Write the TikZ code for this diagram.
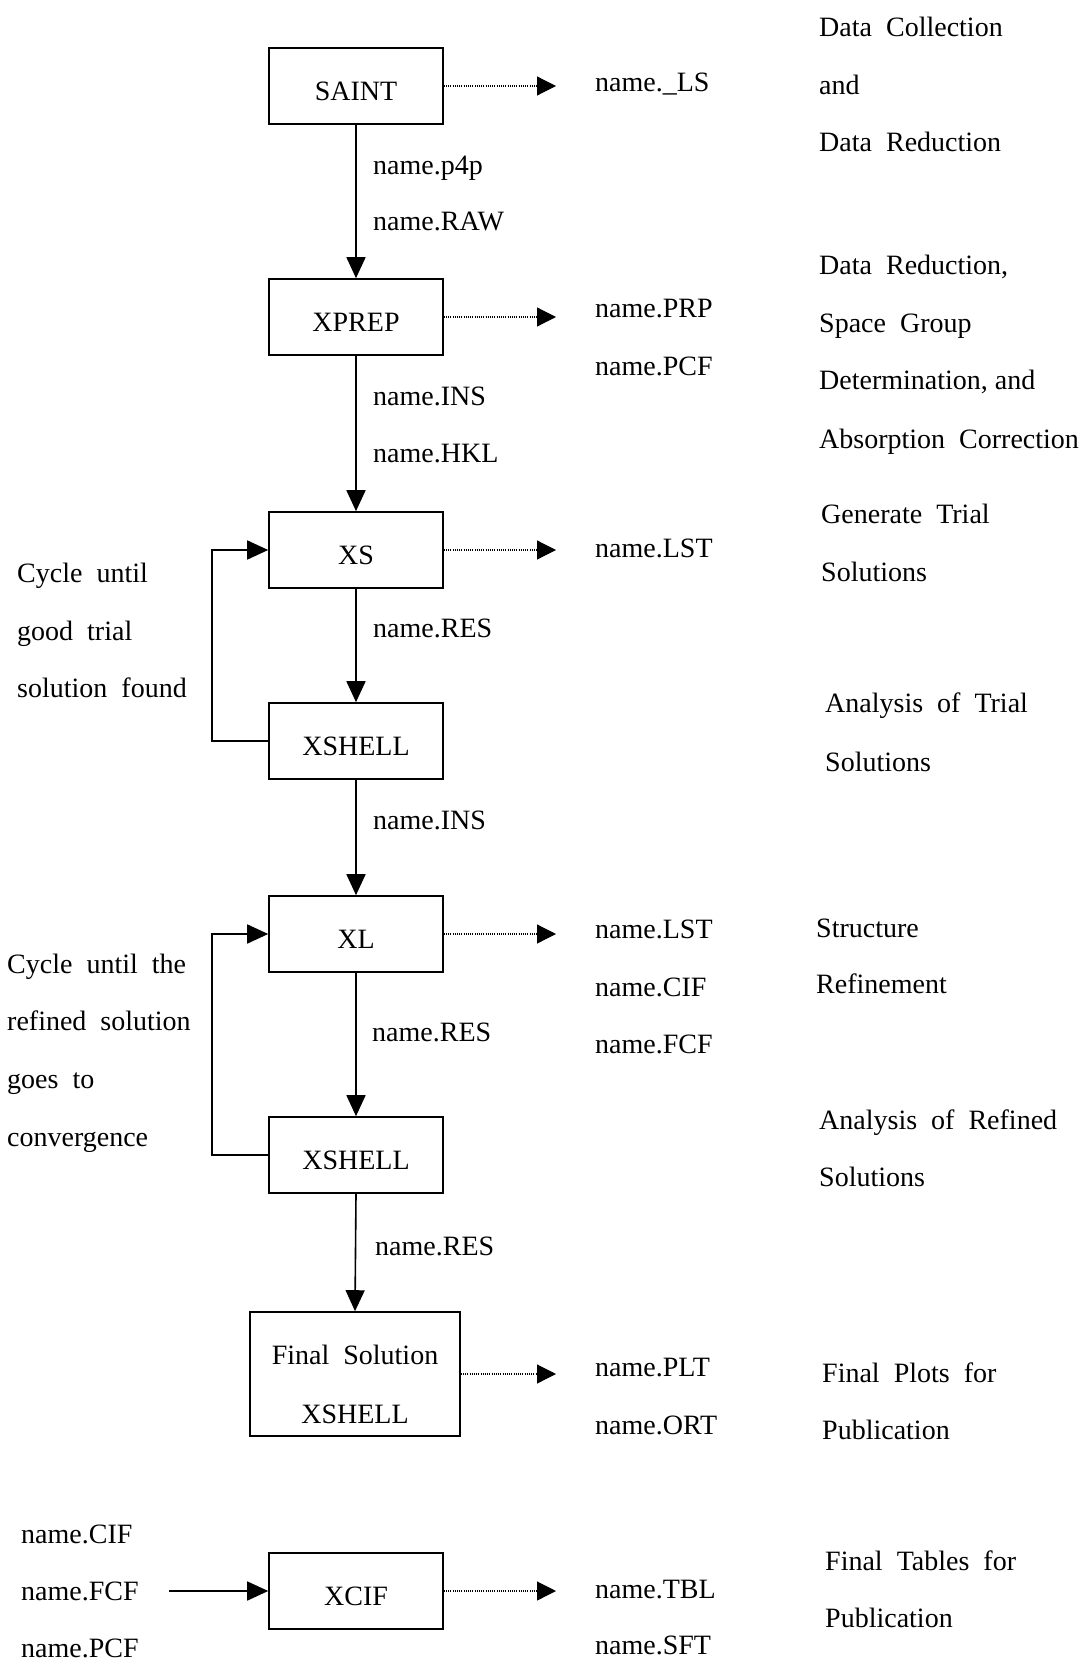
\documentclass[tikz,border=0pt]{standalone}
\usepackage{fontspec}
\setmainfont{Liberation Serif}
\usetikzlibrary{arrows.meta}
\newcommand{\gap}{\hspace{0.5em}}
\begin{document}
\begin{tikzpicture}[x=1pt,y=-1pt, font=\fontsize{28}{34}\selectfont,
 box/.style={draw, line width=1.6pt, minimum width=174pt, minimum height=76pt, inner sep=0pt, text height=28.5pt, text depth=0pt},
 bigbox/.style={draw, line width=1.6pt, minimum width=210pt, minimum height=124pt, inner sep=0pt},
 lbl/.style={anchor=base west, inner sep=0pt},
 flow/.style={line width=1.6pt, -{Triangle[length=21pt,width=19pt]}},
 outp/.style={line width=1.2pt, dash pattern=on 1pt off 1.2pt, -{Triangle[length=19pt,width=19pt]}}]
\useasboundingbox (0,0) rectangle (1091,1661);
% boxes
\node[box] (saint) at (356,86) {SAINT};
\node[box] (xprep) at (356,317) {XPREP};
\node[box] (xs) at (356,550) {XS};
\node[box] (xsh1) at (356,741) {XSHELL};
\node[box] (xl) at (356,934) {XL};
\node[box] (xsh2) at (356,1155) {XSHELL};
\node[bigbox] (fin) at (355,1374)
  {\raisebox{-19.5pt}[0pt][0pt]{\begin{tabular}{@{}c@{}}Final\gap Solution\\[25pt]XSHELL\end{tabular}}};
\node[box] (xcif) at (356,1591) {XCIF};
% coordinates
\coordinate (t1) at (556,86);
\coordinate (t2) at (556,317);
\coordinate (t3) at (556,550);
\coordinate (t4) at (556,934);
\coordinate (t5) at (556,1374);
\coordinate (t6) at (556,1591);
\coordinate (in) at (169,1591);
% flow arrows
\draw[flow] (saint.south) -- (xprep.north);
\draw[flow] (xprep.south) -- (xs.north);
\draw[flow] (xs.south) -- (xsh1.north);
\draw[flow] (xsh1.south) -- (xl.north);
\draw[flow] (xl.south) -- (xsh2.north);
\draw[flow] (xsh2.south) -- (fin.north);
\draw[flow] (in) -- (xcif.west);
% loops
\draw[flow] (xsh1.west) -- ++(-56,0) |- (xs.west);
\draw[flow] (xsh2.west) -- ++(-56,0) |- (xl.west);
% output arrows
\draw[outp] (saint.east) -- (t1);
\draw[outp] (xprep.east) -- (t2);
\draw[outp] (xs.east) -- (t3);
\draw[outp] (xl.east) -- (t4);
\draw[outp] (fin.east) -- (t5);
\draw[outp] (xcif.east) -- (t6);
% file labels
\node[lbl] (f1) at (595,92) {name.\_LS};
\node[lbl] (f2) at (373,175) {name.p4p};
\node[lbl] (f3) at (373,231) {name.RAW};
\node[lbl] (f4) at (595,318) {name.PRP};
\node[lbl] (f5) at (595,375) {name.PCF};
\node[lbl] (f6) at (373,405) {name.INS};
\node[lbl] (f7) at (373,462) {name.HKL};
\node[lbl] (f8) at (595,557) {name.LST};
\node[lbl] (f9) at (373,637) {name.RES};
\node[lbl] (f10) at (373,829) {name.INS};
\node[lbl] (f11) at (595,938) {name.LST};
\node[lbl] (f12) at (595,996) {name.CIF};
\node[lbl] (f13) at (595,1053) {name.FCF};
\node[lbl] (f14) at (372,1041) {name.RES};
\node[lbl] (f15) at (375,1255) {name.RES};
\node[lbl] (f16) at (595,1376) {name.PLT};
\node[lbl] (f17) at (595,1434) {name.ORT};
\node[lbl] (f18) at (595,1598) {name.TBL};
\node[lbl] (f19) at (595,1654) {name.SFT};
\node[lbl] (f20) at (21,1543) {name.CIF};
\node[lbl] (f21) at (21,1600) {name.FCF};
\node[lbl] (f22) at (21,1657) {name.PCF};
% right column
\node[lbl] (r1) at (819,37) {Data\gap Collection};
\node[lbl] (r2) at (819,95) {and};
\node[lbl] (r3) at (819,152) {Data\gap Reduction};
\node[lbl] (r4) at (819,275) {Data\gap Reduction,};
\node[lbl] (r5) at (819,332) {Space\gap Group};
\node[lbl] (r6) at (819,389) {Determination, and};
\node[lbl] (r7) at (819,448) {Absorption\gap Correction};
\node[lbl] (r8) at (821,523) {Generate\gap Trial};
\node[lbl] (r9) at (821,581) {Solutions};
\node[lbl] (r10) at (825,712) {Analysis\gap of\gap Trial};
\node[lbl] (r11) at (825,771) {Solutions};
\node[lbl] (r12) at (816,937) {Structure};
\node[lbl] (r13) at (816,993) {Refinement};
\node[lbl] (r14) at (819,1129) {Analysis\gap of\gap Refined};
\node[lbl] (r15) at (819,1186) {Solutions};
\node[lbl] (r16) at (822,1382) {Final\gap Plots\gap for};
\node[lbl] (r17) at (822,1439) {Publication};
\node[lbl] (r18) at (825,1570) {Final\gap Tables\gap for};
\node[lbl] (r19) at (825,1627) {Publication};
% left column
\node[lbl] (l1) at (17,582) {Cycle\gap until};
\node[lbl] (l2) at (17,640) {good\gap trial};
\node[lbl] (l3) at (17,697) {solution\gap found};
\node[lbl] (l4) at (7,973) {Cycle\gap until\gap the};
\node[lbl] (l5) at (7,1030) {refined\gap solution};
\node[lbl] (l6) at (7,1088) {goes\gap to};
\node[lbl] (l7) at (7,1146) {convergence};
\end{tikzpicture}
\end{document}
